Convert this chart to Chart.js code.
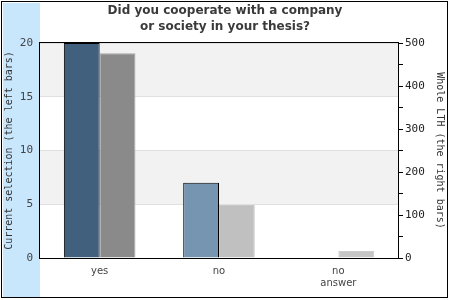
<!DOCTYPE html>
<html>
<head>
<meta charset="utf-8">
<script src="https://cdn.jsdelivr.net/npm/chart.js@4"></script>
<style>
  html, body { margin: 0; padding: 0; background: #ffffff; }
  canvas { display: block; }
</style>
</head>
<body>
<canvas id="c" width="450" height="300"></canvas>
<script>
const titleLines = ['Did you cooperate with a company', 'or society in your thesis?'];
const categories = ['yes', 'no', ['no', 'answer']];
const currentSelection = [20, 7, 0];
const wholeLTH = [476, 123, 16];
const leftAxisTitle = 'Current selection (the left bars)';
const rightAxisTitle = 'Whole LTH (the right bars)';

const frame = {
  id: 'frame',
  beforeDraw(chart) {
    const ctx = chart.ctx;
    const a = chart.chartArea;
    ctx.save();
    ctx.fillStyle = '#ffffff';
    ctx.fillRect(0, 0, chart.width, chart.height);
    ctx.fillStyle = '#c8e6fc';
    ctx.fillRect(3, 3, a.left - 3, 294);
    const y = chart.scales.y;
    ctx.fillStyle = '#f2f2f2';
    [[15, 20], [5, 10]].forEach(([lo, hi]) => {
      const t = y.getPixelForValue(hi), b = y.getPixelForValue(lo);
      ctx.fillRect(a.left, t, a.right - a.left, b - t);
    });
    ctx.restore();
  },
  afterDraw(chart) {
    const ctx = chart.ctx;
    const a = chart.chartArea;
    ctx.save();
    ctx.strokeStyle = '#000000';
    ctx.lineWidth = 1;
    ctx.strokeRect(Math.round(a.left) - 0.5, Math.round(a.top) - 0.5,
                   Math.round(a.right - a.left) + 1, Math.round(a.bottom - a.top) + 1);
    ctx.strokeRect(1.5, 1.5, 446, 296);
    ctx.restore();
  }
};

new Chart(document.getElementById('c'), {
  type: 'bar',
  data: {
    labels: categories,
    datasets: [
      {
        label: 'Current selection',
        data: currentSelection,
        yAxisID: 'y',
        backgroundColor: ['#41607e', '#7695b1', '#7695b1'],
        borderColor: '#000000',
        borderWidth: 1,
        categoryPercentage: 0.6,
        barPercentage: 1.0
      },
      {
        label: 'Whole LTH',
        data: wholeLTH,
        yAxisID: 'y2',
        backgroundColor: ['#8a8a8a', '#c0c0c0', '#c6c6c6'],
        borderColor: ['#a6a6a6', '#c8c8c8', '#cccccc'],
        borderWidth: 1,
        categoryPercentage: 0.6,
        barPercentage: 1.0
      }
    ]
  },
  options: {
    responsive: false,
    animation: false,
    layout: { padding: 0 },
    plugins: {
      legend: { display: false },
      tooltip: { enabled: false },
      title: {
        display: true,
        text: titleLines,
        color: '#3a3a3a',
        font: { family: "'DejaVu Sans', sans-serif", size: 12, weight: 'bold', lineHeight: 1.35 },
        padding: { top: 3, bottom: 7.6 }
      }
    },
    scales: {
      x: {
        grid: { display: false, drawTicks: false },
        border: { display: false },
        ticks: {
          color: '#444444',
          padding: 7,
          maxRotation: 0,
          font: { family: "'DejaVu Sans', sans-serif", size: 10 }
        },
        afterFit(s) { s.height = 42; }
      },
      y: {
        position: 'left',
        min: 0, max: 20,
        grid: { color: '#e0e0e0', drawTicks: false },
        border: { display: false },
        ticks: {
          stepSize: 5,
          padding: 7,
          color: '#444444',
          font: { family: "'DejaVu Sans Mono', monospace", size: 11 }
        },
        title: {
          display: true,
          text: leftAxisTitle,
          color: '#333333',
          padding: { top: 3, bottom: 0 },
          font: { family: "'DejaVu Sans Mono', monospace", size: 10, lineHeight: 1.2 }
        },
        afterFit(s) { s.width = 40; }
      },
      y2: {
        position: 'right',
        min: 0, max: 500,
        grid: { drawOnChartArea: false, drawTicks: true, tickLength: 5, color: '#000000', tickColor: '#000000' },
        border: { display: false },
        ticks: {
          stepSize: 50,
          padding: 2,
          color: '#222222',
          font: { family: "'DejaVu Sans Mono', monospace", size: 11 },
          callback: v => (v % 100 === 0 ? v : '')
        },
        title: {
          display: true,
          text: rightAxisTitle,
          color: '#333333',
          padding: { top: 4, bottom: 0 },
          font: { family: "'DejaVu Sans Mono', monospace", size: 10, lineHeight: 1.2 }
        },
        afterFit(s) { s.width = 52; }
      }
    }
  },
  plugins: [frame]
});
</script>
</body>
</html>
